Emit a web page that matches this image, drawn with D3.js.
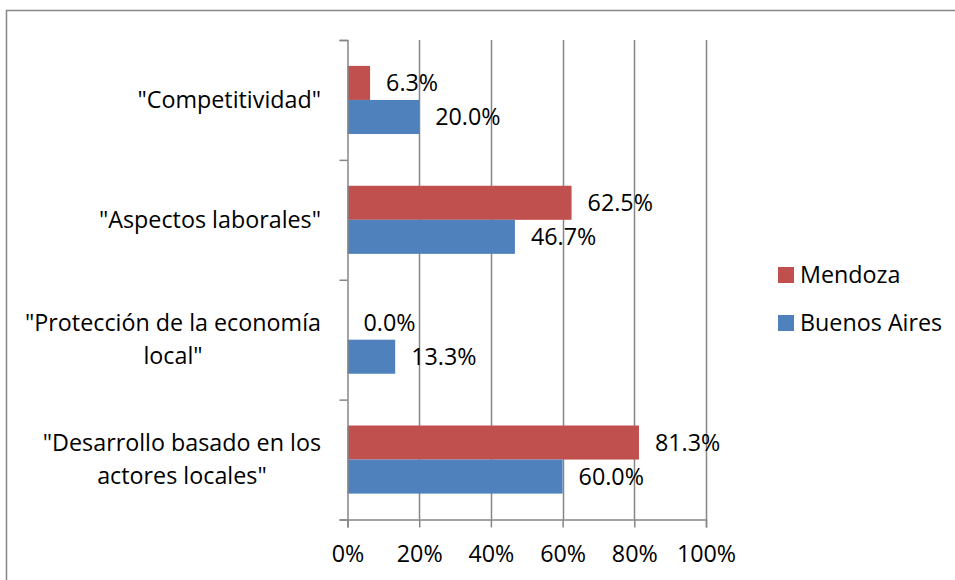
<!DOCTYPE html>
<html>
<head>
<meta charset="utf-8">
<script src="https://cdn.jsdelivr.net/npm/d3@7"></script>
<style>
  body { margin: 0; background: #fff; }
  svg text { font-family: "Open Sans", Lato, sans-serif; fill: #000; }
</style>
</head>
<body>
<svg id="chart" width="955" height="580"></svg>
<script>
const categories = [
    ["\"Competitividad\""],
    ["\"Aspectos laborales\""],
    ["\"Protección de la economía", "local\""],
    ["\"Desarrollo basado en los", "actores locales\""]
];
const seriesNames = ["Mendoza", "Buenos Aires"];
const mendoza = [0.063, 0.625, 0.0, 0.813];
const buenosAires = [0.20, 0.467, 0.133, 0.60];
const xTicks = [0, 0.2, 0.4, 0.6, 0.8, 1.0];
const colors = {"Mendoza": "#C0504D", "Buenos Aires": "#4F81BD"};

const fontSize = 23.3;
const axisColor = "#868686";

const svg = d3.select("#chart");

// outer frame (only left and top edges are visible)
svg.append("rect")
    .attr("x", 6.5)
    .attr("y", 10.5)
    .attr("width", 1000)
    .attr("height", 1000)
    .attr("fill", "none")
    .attr("stroke", axisColor)
    .attr("stroke-width", 1.5);

const plotLeft = 347.5, plotRight = 706, plotTop = 40, plotBottom = 519.5;

const x = d3.scaleLinear()
    .domain([0, 1])
    .range([plotLeft, plotRight]);

const idx = categories.map((d, i) => i);

const y0 = d3.scaleBand()
    .domain(idx)
    .range([plotTop, plotBottom]);

const y1 = d3.scaleBand()
    .domain(seriesNames)
    .range([0, y0.bandwidth()])
    .paddingOuter(0.76);

const yEdge = d3.scaleLinear()
    .domain([0, categories.length])
    .range([plotTop, plotBottom]);

// gridlines
svg.append("g")
    .selectAll("line")
    .data(xTicks.slice(1))
    .join("line")
    .attr("x1", d => Math.round(x(d)) + 0.5)
    .attr("x2", d => Math.round(x(d)) + 0.5)
    .attr("y1", plotTop)
    .attr("y2", plotBottom)
    .attr("stroke", axisColor)
    .attr("stroke-width", 1.5);

// bars
const values = {"Mendoza": mendoza, "Buenos Aires": buenosAires};
const groups = svg.append("g")
    .selectAll("g")
    .data(idx)
    .join("g")
    .attr("transform", i => `translate(0,${y0(i)})`);

groups.selectAll("rect")
    .data(i => seriesNames.map(s => ({s, v: values[s][i]})))
    .join("rect")
    .attr("x", x(0))
    .attr("y", d => y1(d.s))
    .attr("width", d => x(d.v) - x(0))
    .attr("height", y1.bandwidth())
    .attr("fill", d => colors[d.s]);

groups.selectAll("text")
    .data(i => seriesNames.map(s => ({s, v: values[s][i]})))
    .join("text")
    .attr("x", d => x(d.v) + 16)
    .attr("y", d => y1(d.s) + y1.bandwidth() / 2)
    .attr("dy", "0.35em")
    .style("font-size", fontSize + "px")
    .text(d => d3.format(".1%")(d.v));

// Y Axis
const yAxis = svg.append("g")
    .attr("transform", `translate(${plotLeft},0)`)
    .call(d3.axisLeft(yEdge).ticks(categories.length).tickSize(8).tickFormat(""));
yAxis.select(".domain").attr("stroke", axisColor).attr("stroke-width", 1.5);
yAxis.selectAll(".tick line").attr("stroke", axisColor).attr("stroke-width", 1.5);

// X Axis
const xAxis = svg.append("g")
    .attr("transform", `translate(0,${plotBottom})`)
    .call(d3.axisBottom(x).tickValues(xTicks).tickSize(8).tickFormat(d3.format(".0%")));
xAxis.select(".domain").attr("stroke", axisColor).attr("stroke-width", 1.5);
xAxis.selectAll(".tick line").attr("stroke", axisColor).attr("stroke-width", 1.5);
xAxis.selectAll(".tick text")
    .attr("y", 34)
    .attr("dy", "0.35em")
    .style("font-size", fontSize + "px")
    .style("font-family", "'Open Sans', Lato, sans-serif")
    .attr("fill", "#000");

// category labels, centered block right-aligned to the axis
const lineH = 33;
const labelRight = 321;
svg.append("g")
    .selectAll("g")
    .data(idx)
    .join("g")
    .each(function(i) {
        const g = d3.select(this);
        const lines = categories[i];
        const cy = y0(i) + y0.bandwidth() / 2;
        const texts = lines.map((t, k) => g.append("text")
            .attr("y", cy + (k - (lines.length - 1) / 2) * lineH)
            .attr("dy", "0.35em")
            .attr("text-anchor", "middle")
            .style("font-size", fontSize + "px")
            .text(t));
        const w = d3.max(texts, t => t.node().getComputedTextLength());
        texts.forEach(t => t.attr("x", labelRight - w / 2));
    });

// legend
const legend = svg.append("g")
    .selectAll("g")
    .data(seriesNames)
    .join("g")
    .attr("transform", (d, i) => `translate(778,${267 + i * 48})`);

legend.append("rect")
    .attr("width", 16)
    .attr("height", 16)
    .attr("fill", d => colors[d]);

legend.append("text")
    .attr("x", 22)
    .attr("y", 8)
    .attr("dy", "0.35em")
    .style("font-size", fontSize + "px")
    .text(d => d);
</script>
</body>
</html>
